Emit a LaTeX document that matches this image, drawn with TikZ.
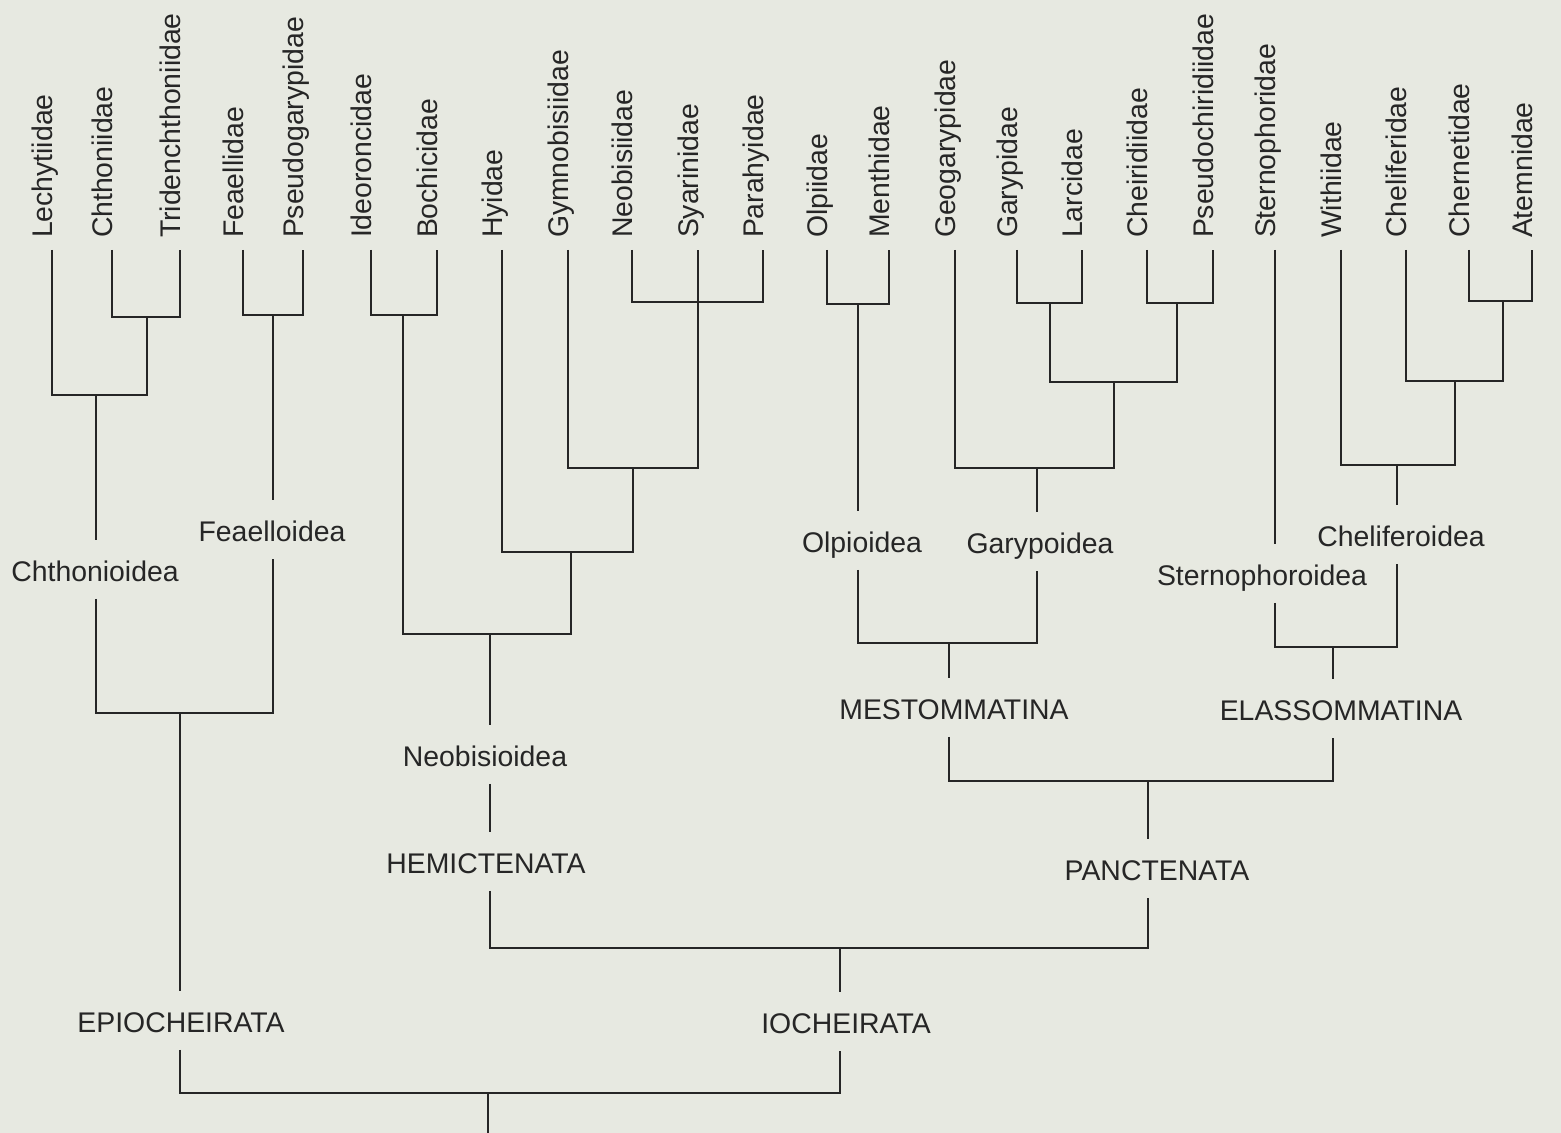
\documentclass[tikz,border=0pt]{standalone}
\usepackage{fontspec}
\setmainfont{Liberation Sans}
\definecolor{paper}{RGB}{231,233,225}
\definecolor{ink}{RGB}{38,38,38}
\tikzset{
  leaf/.style={rotate=90, anchor=base west, inner sep=0pt, outer xsep=6pt},
  clade/.style={anchor=base, inner xsep=2pt, inner ysep=8pt, text height=12pt, text depth=0.5pt},
}
\begin{document}
\begin{tikzpicture}[x=0.5pt, y=-0.5pt, line width=0.8pt, color=ink, font=\fontsize{14.2}{17}\selectfont]
  \fill[paper] (0,0) rectangle (1561,1133);
  \useasboundingbox (0,0) rectangle (1561,1133);
  \def\ytop{250}
  % families
  \node[leaf] (lech) at (52,\ytop) {Lechytiidae};
  \node[leaf] (chth) at (112,\ytop) {Chthoniidae};
  \node[leaf] (trid) at (180,\ytop) {Tridenchthoniidae};
  \node[leaf] (feae) at (243,\ytop) {Feaellidae};
  \node[leaf] (pseg) at (303,\ytop) {Pseudogarypidae};
  \node[leaf] (ideo) at (371,\ytop) {Ideoroncidae};
  \node[leaf] (boch) at (437,\ytop) {Bochicidae};
  \node[leaf] (hyid) at (502,\ytop) {Hyidae};
  \node[leaf] (gymn) at (568,\ytop) {Gymnobisiidae};
  \node[leaf] (neob) at (632,\ytop) {Neobisiidae};
  \node[leaf] (syar) at (698,\ytop) {Syarinidae};
  \node[leaf] (parh) at (763,\ytop) {Parahyidae};
  \node[leaf] (olpi) at (827,\ytop) {Olpiidae};
  \node[leaf] (ment) at (889,\ytop) {Menthidae};
  \node[leaf] (geog) at (955,\ytop) {Geogarypidae};
  \node[leaf] (gary) at (1017,\ytop) {Garypidae};
  \node[leaf] (larc) at (1082,\ytop) {Larcidae};
  \node[leaf] (chei) at (1147,\ytop) {Cheiridiidae};
  \node[leaf] (psec) at (1213,\ytop) {Pseudochiridiidae};
  \node[leaf] (ster) at (1275,\ytop) {Sternophoridae};
  \node[leaf] (with) at (1341,\ytop) {Withiidae};
  \node[leaf] (chel) at (1406,\ytop) {Cheliferidae};
  \node[leaf] (cher) at (1469,\ytop) {Chernetidae};
  \node[leaf] (atem) at (1532,\ytop) {Atemnidae};
  % clade labels
  \node[clade] (chthonioidea) at (95,581) {Chthonioidea};
  \node[clade] (feaelloidea) at (272,541) {Feaelloidea};
  \node[clade] (epiocheirata) at (181,1032) {EPIOCHEIRATA};
  \node[clade] (neobisioidea) at (485,766) {Neobisioidea};
  \node[clade] (hemictenata) at (486,873) {HEMICTENATA};
  \node[clade] (olpioidea) at (862,552) {Olpioidea};
  \node[clade] (garypoidea) at (1040,553) {Garypoidea};
  \node[clade] (mestommatina) at (954,719) {MESTOMMATINA};
  \node[clade] (sternophoroidea) at (1262,585) {Sternophoroidea};
  \node[clade] (cheliferoidea) at (1401,546) {Cheliferoidea};
  \node[clade] (elassommatina) at (1341,720) {ELASSOMMATINA};
  \node[clade] (panctenata) at (1157,880) {PANCTENATA};
  \node[clade] (iocheirata) at (846,1033) {IOCHEIRATA};
  % junctions
  \coordinate (ct) at (147,317);
  \coordinate (chtho) at (96,395);
  \coordinate (feael) at (273,315);
  \coordinate (epio) at (180,713);
  \coordinate (ib) at (403,315);
  \coordinate (nsp) at (698,302);
  \coordinate (gns) at (633,468);
  \coordinate (hg) at (571,552);
  \coordinate (neobi) at (490,634);
  \coordinate (olpio) at (858,304);
  \coordinate (gl) at (1050,303);
  \coordinate (cp) at (1177,303);
  \coordinate (glcp) at (1114,382);
  \coordinate (garyp) at (1037,468);
  \coordinate (mesto) at (949,643);
  \coordinate (ca) at (1503,301);
  \coordinate (cca) at (1455,381);
  \coordinate (cheli) at (1397,465);
  \coordinate (elass) at (1333,647);
  \coordinate (panct) at (1148,781);
  \coordinate (ioch) at (840,948);
  \coordinate (root) at (488,1093);
  \coordinate (base) at (488,1133);
  % Epiocheirata
  \draw (chth.base west) |- (ct) -| (trid.base west);
  \draw (lech.base west) |- (chtho) -| (ct);
  \draw (chtho) -- (chtho |- chthonioidea.north);
  \draw (feae.base west) |- (feael) -| (pseg.base west);
  \draw (feael) -- (feael |- feaelloidea.north);
  \draw (chtho |- chthonioidea.south) |- (epio) -| (feael |- feaelloidea.south);
  \draw (epio) -- (epio |- epiocheirata.north);
  % Hemictenata
  \draw (ideo.base west) |- (ib) -| (boch.base west);
  \draw (neob.base west) |- (nsp) -| (parh.base west);
  \draw (gymn.base west) |- (gns) -| (syar.base west);
  \draw (hyid.base west) |- (hg) -| (gns);
  \draw (ib) |- (neobi) -| (hg);
  \draw (neobi) -- (neobi |- neobisioidea.north);
  \draw (neobi |- neobisioidea.south) -- (neobi |- hemictenata.north);
  % Panctenata
  \draw (olpi.base west) |- (olpio) -| (ment.base west);
  \draw (olpio) -- (olpio |- olpioidea.north);
  \draw (gary.base west) |- (gl) -| (larc.base west);
  \draw (chei.base west) |- (cp) -| (psec.base west);
  \draw (gl) |- (glcp) -| (cp);
  \draw (geog.base west) |- (garyp) -| (glcp);
  \draw (garyp) -- (garyp |- garypoidea.north);
  \draw (olpio |- olpioidea.south) |- (mesto) -| (garyp |- garypoidea.south);
  \draw (mesto) -- (mesto |- mestommatina.north);
  \draw (ster.base west) -- (ster.base west |- sternophoroidea.north);
  \draw (cher.base west) |- (ca) -| (atem.base west);
  \draw (chel.base west) |- (cca) -| (ca);
  \draw (with.base west) |- (cheli) -| (cca);
  \draw (cheli) -- (cheli |- cheliferoidea.north);
  \draw (ster.base west |- sternophoroidea.south) |- (elass) -| (cheli |- cheliferoidea.south);
  \draw (elass) -- (elass |- elassommatina.north);
  \draw (mesto |- mestommatina.south) |- (panct) -| (elass |- elassommatina.south);
  \draw (panct) -- (panct |- panctenata.north);
  % Iocheirata and root
  \draw (neobi |- hemictenata.south) |- (ioch) -| (panct |- panctenata.south);
  \draw (ioch) -- (ioch |- iocheirata.north);
  \draw (epio |- epiocheirata.south) |- (root) -| (ioch |- iocheirata.south);
  \draw (root) -- (base);
\end{tikzpicture}
\end{document}
